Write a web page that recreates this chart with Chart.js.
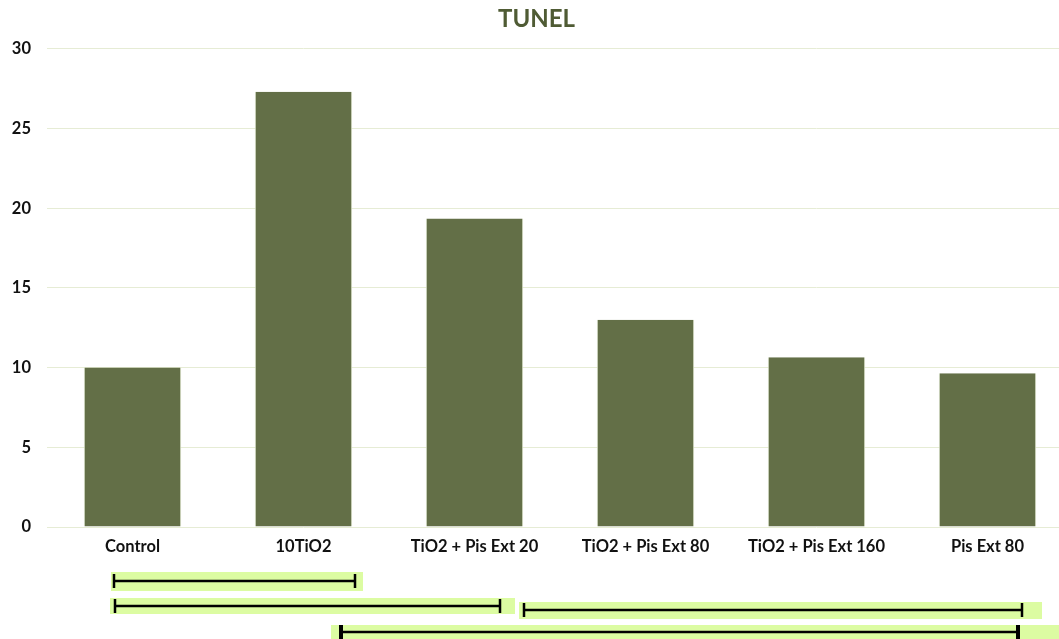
<!DOCTYPE html>
<html>
<head>
<meta charset="utf-8">
<script src="https://cdn.jsdelivr.net/npm/chart.js@4/dist/chart.umd.min.js"></script>
<style>
  html, body { margin: 0; padding: 0; background: #fff; overflow: hidden; }
  /* the plot runs a little past the right edge of the window, as in the source */
  #wrap { width: 1088px; height: 639px; }
</style>
</head>
<body>
<div id="wrap"><canvas id="barChart"></canvas></div>
<script>
const categories = ["Control", "10TiO2", "TiO2 + Pis Ext 20", "TiO2 + Pis Ext 80", "TiO2 + Pis Ext 160", "Pis Ext 80"];
const tunelValues = [10.0, 27.3, 19.35, 13.0, 10.65, 9.65];
const yTicks = [0, 5, 10, 15, 20, 25, 30];

// comparison brackets under the axis, in category units
const bracketFrom = [-0.11, -0.10, 2.29, 1.22];
const bracketTo = [1.30, 2.15, 5.20, 5.18];

const bracketStyle = [
    { y: 54, top: 9, bottom: 10, padL: 3, padR: 8, cap: 2.5 },
    { y: 79, top: 8, bottom: 8, padL: 5, padR: 15, cap: 2.5 },
    { y: 83, top: 8, bottom: 9, padL: 5, padR: 20, cap: 2.5 },
    { y: 105, top: 7, bottom: 10, padL: 10, padR: 60, cap: 4 }
];

const bracketPlugin = {
    id: "brackets",
    afterDraw(chart) {
        const ctx = chart.ctx;
        const x = chart.scales.x;
        const base = chart.chartArea.bottom;
        ctx.save();
        bracketFrom.forEach((f, i) => {
            const s = bracketStyle[i];
            const x1 = Math.round(x.getPixelForValue(f));
            const x2 = Math.round(x.getPixelForValue(bracketTo[i]));
            const y = base + s.y;
            ctx.fillStyle = "#dcfca2";
            ctx.fillRect(x1 - s.padL, y - s.top, x2 - x1 + s.padL + s.padR, s.top + s.bottom);
            ctx.strokeStyle = "#000";
            ctx.lineWidth = 2.5;
            ctx.beginPath();
            ctx.moveTo(x1, y);
            ctx.lineTo(x2, y);
            ctx.stroke();
            ctx.lineWidth = s.cap;
            ctx.beginPath();
            ctx.moveTo(x1, y - 7);
            ctx.lineTo(x1, y + 7);
            ctx.moveTo(x2, y - 7);
            ctx.lineTo(x2, y + 7);
            ctx.stroke();
        });
        ctx.restore();
    }
};

new Chart(document.getElementById("barChart"), {
    type: "bar",
    data: {
        labels: categories,
        datasets: [{
            label: "TUNEL",
            data: tunelValues,
            backgroundColor: "#636f47",
            borderColor: "#dfe6cf",
            borderWidth: { left: 1, right: 1, top: 0, bottom: 0 },
            barPercentage: 0.57,
            categoryPercentage: 1
        }]
    },
    options: {
        responsive: true,
        maintainAspectRatio: false,
        animation: false,
        layout: { padding: { left: 0, right: 15, top: 0, bottom: 82 } },
        plugins: {
            legend: { display: false },
            tooltip: { enabled: false },
            title: {
                display: true,
                text: "TUNEL",
                color: "#4f5b34",
                font: { family: "Lato", size: 24, weight: "bold" },
                padding: { top: 5, bottom: 15 }
            }
        },
        scales: {
            x: {
                grid: { display: false, drawTicks: false },
                border: { display: false },
                ticks: {
                    color: "#111",
                    font: { family: "Lato", size: 16.5, weight: "bold" },
                    padding: 10,
                    maxRotation: 0
                },
                afterFit: s => { s.height = 30; }
            },
            y: {
                min: 0,
                max: 30,
                afterBuildTicks: s => { s.ticks = yTicks.map(v => ({ value: v })); },
                grid: { color: "#e6ecd5", lineWidth: 1, drawTicks: false },
                border: { display: false },
                ticks: {
                    color: "#111",
                    font: { family: "Lato", size: 16.5, weight: "bold" },
                    padding: 16
                },
                afterFit: s => { s.width = 47; }
            }
        }
    },
    plugins: [bracketPlugin]
});
</script>
</body>
</html>
